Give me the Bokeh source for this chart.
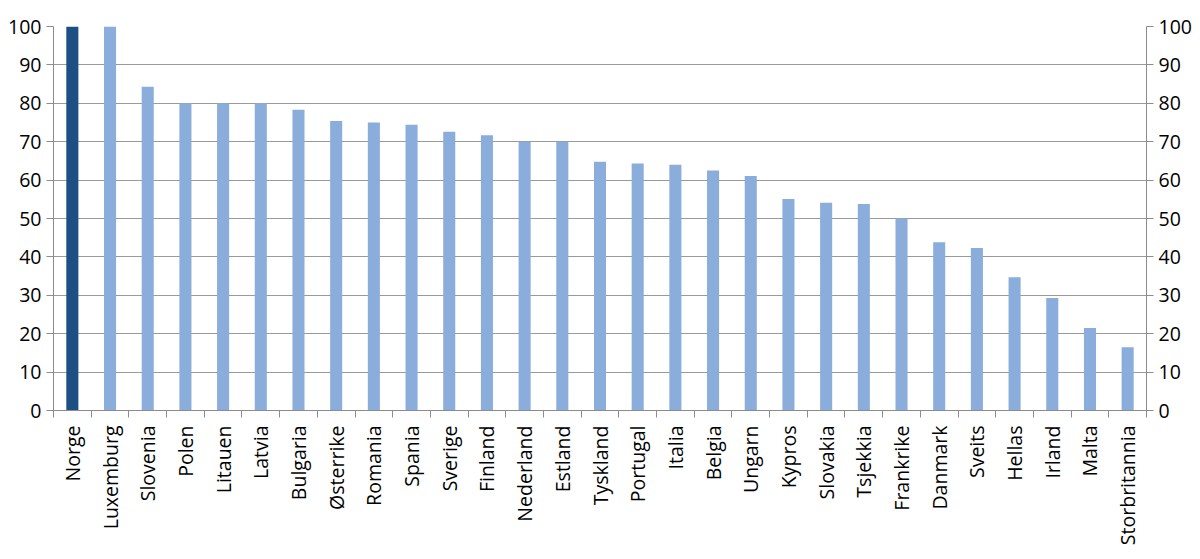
import math
from bokeh.plotting import figure
from bokeh.models import (FactorRange, Range1d, LinearAxis, CategoricalAxis, FixedTicker,
                          ColumnDataSource)
from bokeh.embed import file_html
from bokeh.resources import INLINE

countries = ["Norge", "Luxemburg", "Slovenia", "Polen", "Litauen", "Latvia", "Bulgaria",
             "Østerrike", "Romania", "Spania", "Sverige", "Finland", "Nederland", "Estland",
             "Tyskland", "Portugal", "Italia", "Belgia", "Ungarn", "Kypros", "Slovakia",
             "Tsjekkia", "Frankrike", "Danmark", "Sveits", "Hellas", "Irland", "Malta",
             "Storbritannia"]
values = [100, 100, 84.3, 80, 80, 80, 78.3, 75.4, 75.0, 74.4, 72.6, 71.7, 70, 70,
          64.8, 64.3, 64.0, 62.5, 61.1, 55.1, 54.1, 53.8, 50, 43.8, 42.3, 34.7, 29.3,
          21.5, 16.5]
y_ticks = [0, 10, 20, 30, 40, 50, 60, 70, 80, 90, 100]

DARK = "#1d4f82"
LIGHT = "#8aaddb"
FONT = "Open Sans"
FS = "19.5px"
AX = "#8c8c8c"

colors = [DARK if c == "Norge" else LIGHT for c in countries]
src = ColumnDataSource(dict(x=countries, top=values, color=colors))

p = figure(x_range=FactorRange(*countries, range_padding=0),
           y_range=Range1d(0, 100),
           frame_width=1093, frame_height=384,
           min_border_top=26, min_border_left=53, min_border_right=10,
           x_axis_location=None, y_axis_location=None,
           toolbar_location=None, output_backend="svg")
p.outline_line_color = None
p.background_fill_color = "white"

p.vbar(x="x", top="top", width=0.32, fill_color="color", line_color=None, source=src)

p.xgrid.visible = False
p.ygrid.ticker = FixedTicker(ticks=y_ticks)
p.ygrid.grid_line_color = "#9a9a9a"
p.ygrid.grid_line_width = 1.2

def style_y(ax):
    ax.ticker = FixedTicker(ticks=y_ticks)
    ax.axis_line_color = AX
    ax.major_tick_line_color = AX
    ax.major_tick_out = 7
    ax.major_tick_in = 0
    ax.minor_tick_line_color = None
    ax.major_label_text_font = FONT
    ax.major_label_text_font_size = FS
    ax.major_label_text_color = "black"
    ax.major_label_standoff = 5

yl = LinearAxis()
style_y(yl)
p.add_layout(yl, "left")
yr = LinearAxis()
style_y(yr)
p.add_layout(yr, "right")

# boundary ticks along x axis (no labels), nearest the frame
xt = LinearAxis(ticker=FixedTicker(ticks=list(range(len(countries) + 1))))
xt.axis_line_color = AX
xt.major_tick_line_color = AX
xt.major_tick_out = 7
xt.major_tick_in = 0
xt.minor_tick_line_color = None
xt.major_label_overrides = {i: "" for i in range(len(countries) + 1)}
xt.major_label_standoff = 0
p.add_layout(xt, "below")

# category labels (no ticks)
xc = CategoricalAxis()
xc.axis_line_color = None
xc.major_tick_line_color = None
xc.major_tick_out = 0
xc.major_tick_in = 0
xc.major_label_orientation = math.pi / 2
xc.major_label_text_font = FONT
xc.major_label_text_font_size = FS
xc.major_label_text_color = "black"
xc.major_label_standoff = 8
p.add_layout(xc, "below")

open("out.html", "w").write(file_html(p, INLINE))
